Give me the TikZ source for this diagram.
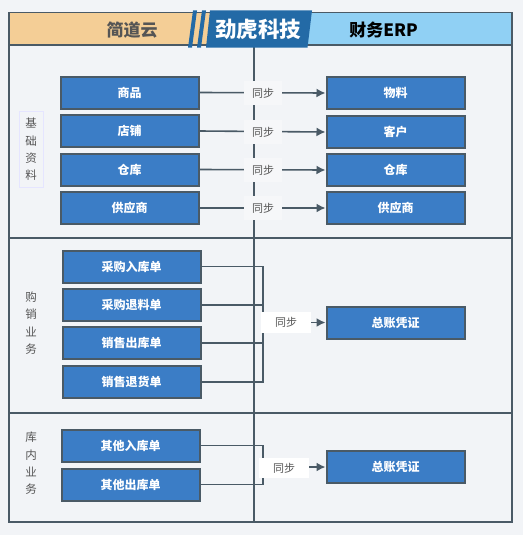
\documentclass[tikz,border=0pt]{standalone}
\usepackage{fontspec}
\setmainfont{Noto Sans CJK SC}
\usetikzlibrary{arrows.meta}
\definecolor{bgc}{HTML}{F2F4F7}
\definecolor{syncc}{HTML}{F6F7F9}
\definecolor{linec}{HTML}{4A5A66}
\definecolor{boxc}{HTML}{3B7DC6}
\definecolor{titlec}{HTML}{236AA6}
\definecolor{orangec}{HTML}{F4CE96}
\definecolor{skyc}{HTML}{90D0F4}
\definecolor{txtc}{HTML}{555555}
\tikzset{x=1pt,y=-1pt,
 bluebox/.style={draw=linec,line width=2pt,fill=boxc,minimum width=138pt,minimum height=32pt,inner sep=0pt,text=white,font=\fontsize{12}{13}\selectfont\bfseries},
 syncl/.style={fill=syncc,text=txtc,minimum width=38pt,minimum height=24pt,inner sep=0pt,font=\fontsize{11}{12}\selectfont},
 syncw/.style={fill=white,text=txtc,minimum width=50pt,minimum height=20.5pt,inner sep=0pt,font=\fontsize{11}{12}\selectfont},
 cat/.style={text=txtc,inner sep=0pt,align=center,font=\fontsize{11.5}{17.3}\selectfont},
 conn/.style={draw=linec,line width=1.6pt},
 arr/.style={draw=linec,line width=1.6pt,-{Latex[length=9pt,width=9pt]}},
 frame/.style={draw=linec,line width=1.9pt}}
\begin{document}
\begin{tikzpicture}
\useasboundingbox (0,0) rectangle (523,535);
\fill[bgc] (0,0) rectangle (523,535);
% header
\fill[orangec] (9,12.5) rectangle (212,45);
\fill[skyc] (300,12.5) rectangle (512,45);
% frame and grid
\draw[frame] (9,45) -- (512,45);
\draw[frame] (9,238) -- (512,238);
\draw[frame] (9,413.2) -- (512,413.2);
\draw[frame] (254,45) -- (254,522);
\draw[frame] (9,12.5) rectangle (512,522);
% title band
\fill[titlec] (193,10.5) -- (197,10.5) -- (192,47.7) -- (188,47.7) -- cycle;
\fill[titlec] (202,10.5) -- (206,10.5) -- (201,47.7) -- (197,47.7) -- cycle;
\fill[titlec] (210,10.5) -- (312,10.5) -- (307.5,47.7) -- (206,47.7) -- cycle;
\node[font=\fontsize{17}{18}\selectfont\bfseries,text=txtc,inner sep=0pt] (h1) at (132,30.5) {简道云};
\node[font=\fontsize{21.5}{22}\selectfont\bfseries,text=white,inner sep=0pt] (h2) at (258,29.5) {劲虎科技};
\node[font=\fontsize{17}{18}\selectfont\bfseries,text=black,inner sep=0pt] (h3) at (383.5,30.5) {财务ERP};
% category labels
\node[draw=blue!10,fill=bgc,line width=1pt,minimum width=24pt,minimum height=76pt,inner sep=0pt,text=txtc,align=center,font=\fontsize{11.5}{17.3}\selectfont] (c1) at (31,149.5) {基\\础\\资\\料};
\node[cat] (c2) at (31,323) {购\\销\\业\\务};
\node[cat] (c3) at (31,463.5) {库\\内\\业\\务};
% left boxes
\node[bluebox] (a1) at (129.5,92.5) {商品};
\node[bluebox] (a2) at (129.5,131) {店铺};
\node[bluebox] (a3) at (129.5,169.5) {仓库};
\node[bluebox] (a4) at (129.5,208) {供应商};
\node[bluebox] (b1) at (131.5,266.5) {采购入库单};
\node[bluebox] (b2) at (131.5,305) {采购退料单};
\node[bluebox] (b3) at (131.5,343) {销售出库单};
\node[bluebox] (b4) at (131.5,382) {销售退货单};
\node[bluebox] (d1) at (130.5,445.5) {其他入库单};
\node[bluebox] (d2) at (130.5,484.5) {其他出库单};
% right boxes
\node[bluebox] (r1) at (395.5,93) {物料};
\node[bluebox] (r2) at (395.5,132) {客户};
\node[bluebox] (r3) at (395.5,170) {仓库};
\node[bluebox] (r4) at (395.5,208) {供应商};
\node[bluebox] (r5) at (395.5,322.5) {总账凭证};
\node[bluebox] (r6) at (395.5,467) {总账凭证};
% sync connectors
\coordinate (j2) at (263,322.5);
\coordinate (j3) at (263,467);
\draw[arr] (a1.east) -- (r1.west);
\draw[arr] (a2.east) -- (r2.west);
\draw[arr] (a3.east) -- (r3.west);
\draw[arr] (a4.east) -- (r4.west);
\draw[conn] (b1.east) -| (j2);
\draw[conn] (b2.east) -| (j2);
\draw[conn] (b3.east) -| (j2);
\draw[conn] (b4.east) -| (j2);
\draw[conn] (d1.east) -| (j3);
\draw[conn] (d2.east) -| (j3);
\draw[arr] (j2) -- (r5.west);
\draw[arr] (j3) -- (r6.west);
\node[syncl] (s1) at (263,93) {同步};
\node[syncl] (s2) at (263,132) {同步};
\node[syncl] (s3) at (263,170) {同步};
\node[syncl] (s4) at (263,208) {同步};
\node[syncw] (s5) at (286,322.5) {同步};
\node[syncw] (s6) at (284,468) {同步};
\end{tikzpicture}
\end{document}
